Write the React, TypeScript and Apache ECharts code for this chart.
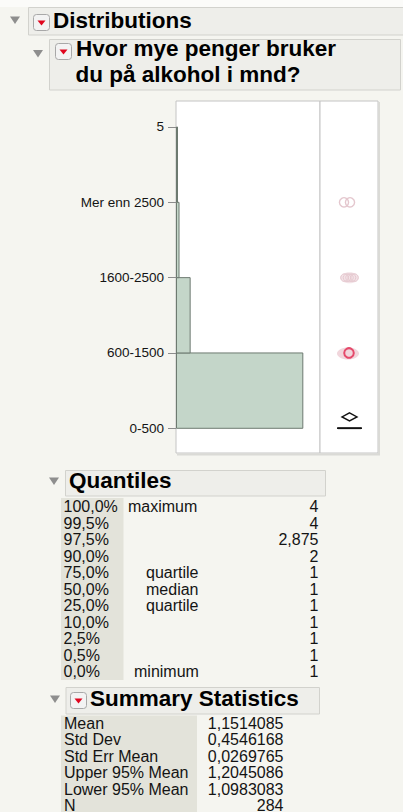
import React, { useEffect, useRef } from 'react';
import * as echarts from 'echarts';

// ---- data ----
const binStarts = [1, 2, 3, 4];
const binEnds = [2, 3, 4, 5];
const binCounts = [250, 27, 5, 2];
const tickValues = [1, 2, 3, 4, 5];
const tickLabels = ['0-500', '600-1500', '1600-2500', 'Mer enn 2500', '5'];
const outlierValues = [2, 3, 4];
const outlierCounts = [27, 5, 2];
const quartileValues = [1, 1, 1]; // q1, median, q3
const meanValue = 1.1514085;
const lower95 = 1.0983083;
const upper95 = 1.2045086;

const quantileLevels = ['100,0%', '99,5%', '97,5%', '90,0%', '75,0%', '50,0%', '25,0%', '10,0%', '2,5%', '0,5%', '0,0%'];
const quantileNames = ['maximum', '', '', '', 'quartile', 'median', 'quartile', '', '', '', 'minimum'];
const quantileValues = ['4', '4', '2,875', '2', '1', '1', '1', '1', '1', '1', '1'];
const summaryLabels = ['Mean', 'Std Dev', 'Std Err Mean', 'Upper 95% Mean', 'Lower 95% Mean', 'N'];
const summaryValues = ['1,1514085', '0,4546168', '0,0269765', '1,2045086', '1,0983083', '284'];

const FONT = "'Liberation Sans', Arial, Helvetica, sans-serif";
const nameX: Record<string, number> = { maximum: 128, quartile: 146, median: 146, minimum: 134 };

function txt(text: string, x: number, y: number, opts: any = {}) {
  const align = opts.align ?? 'left';
  return {
    type: 'text',
    x,
    y,
    silent: true,
    style: {
      text,
      fill: opts.color ?? '#141414',
      fontFamily: FONT,
      fontSize: opts.size ?? 16,
      fontWeight: opts.weight ?? 'normal',
      align,
      textAlign: align,
      verticalAlign: 'middle',
      textVerticalAlign: 'middle',
    },
  };
}

function headerBox(x: number, y: number, w: number, h: number) {
  return {
    type: 'rect',
    silent: true,
    shape: { x, y, width: w, height: h },
    style: { fill: '#eeeeea', stroke: '#d2d2cd', lineWidth: 1 },
  };
}

function disclosure(x: number, y: number) {
  return {
    type: 'polygon',
    silent: true,
    shape: { points: [[x, y], [x + 10, y], [x + 5, y + 7.5]] },
    style: { fill: '#8e8e8e' },
  };
}

function redButton(x: number, y: number) {
  return {
    type: 'group',
    silent: true,
    children: [
      { type: 'rect', shape: { x, y, width: 16, height: 16, r: 3 }, style: { fill: '#f3f3f3', stroke: '#a8a8a8', lineWidth: 1 } },
      { type: 'polygon', shape: { points: [[x + 4, y + 6], [x + 12, y + 6], [x + 8, y + 11]] }, style: { fill: '#e0061f' } },
    ],
  };
}

export default function App() {
  const ref = useRef<HTMLDivElement>(null);

  useEffect(() => {
    if (!ref.current) return;
    const chart = echarts.init(ref.current, null, { renderer: 'svg' });

    const yMin = 0.672;
    const yMax = 5.345;

    const graphics: any[] = [];
    graphics.push({ type: 'rect', silent: true, shape: { x: 0, y: 0, width: 403, height: 7 }, style: { fill: '#fbfbf9' } });
    // Distributions header
    graphics.push(headerBox(28.5, 7.5, 380, 27.5));
    graphics.push(disclosure(10, 16.5));
    graphics.push(redButton(33.5, 14.5));
    graphics.push(txt('Distributions', 53, 20, { size: 22.5, weight: 'bold', color: '#000' }));
    // variable header
    graphics.push(headerBox(49.5, 39.5, 351, 50.5));
    graphics.push(disclosure(33, 50));
    graphics.push(redButton(55.5, 43.5));
    graphics.push(txt('Hvor mye penger bruker', 76, 48.2, { size: 22.5, weight: 'bold', color: '#000' }));
    graphics.push(txt('du på alkohol i mnd?', 75.5, 74.9, { size: 22.5, weight: 'bold', color: '#000' }));
    // plot frame shadow
    graphics.push({ type: 'line', silent: true, shape: { x1: 379, y1: 102, x2: 379, y2: 454 }, style: { stroke: '#dadad6', lineWidth: 2 } });
    graphics.push({ type: 'line', silent: true, shape: { x1: 177, y1: 454.5, x2: 380, y2: 454.5 }, style: { stroke: '#dadad6', lineWidth: 2 } });

    // Quantiles
    graphics.push(disclosure(49, 477.5));
    graphics.push(headerBox(65.5, 470.5, 260, 25.5));
    graphics.push(txt('Quantiles', 69, 480.5, { size: 22.5, weight: 'bold', color: '#000' }));
    graphics.push({ type: 'rect', silent: true, shape: { x: 61, y: 498, width: 62.5, height: 182 }, style: { fill: '#e3e3da' } });
    quantileLevels.forEach((lvl, i) => {
      const y = 506.7 + i * 16.5;
      graphics.push(txt(lvl, 63.5, y));
      const nm = quantileNames[i];
      if (nm) graphics.push(txt(nm, nameX[nm] ?? 130, y));
      graphics.push(txt(quantileValues[i], 318.5, y, { align: 'right' }));
    });

    // Summary statistics
    graphics.push(disclosure(50, 695.5));
    graphics.push(headerBox(66, 687.5, 253.5, 26.5));
    graphics.push(redButton(70.5, 692.5));
    graphics.push(txt('Summary Statistics', 90, 698, { size: 22.5, weight: 'bold', color: '#000' }));
    graphics.push({ type: 'rect', silent: true, shape: { x: 61, y: 715.5, width: 136, height: 97 }, style: { fill: '#e3e3da' } });
    summaryLabels.forEach((lab, i) => {
      const y = 723.3 + i * 16.5;
      graphics.push(txt(lab, 64, y));
      graphics.push(txt(summaryValues[i], 283.5, y, { align: 'right' }));
    });

    const option: any = {
      animation: false,
      backgroundColor: '#f5f5f0',
      grid: [
        { left: 176, top: 101, width: 144, height: 352, show: true, backgroundColor: '#ffffff', borderColor: '#c4c4c4', borderWidth: 1 },
        { left: 320, top: 101, width: 58, height: 352, show: true, backgroundColor: '#ffffff', borderColor: '#c4c4c4', borderWidth: 1 },
      ],
      xAxis: [
        { type: 'value', gridIndex: 0, min: 0, max: 285, show: false },
        { type: 'value', gridIndex: 1, min: 0, max: 1, show: false },
      ],
      yAxis: [
        {
          type: 'value',
          gridIndex: 0,
          min: yMin,
          max: yMax,
          axisLine: { show: false },
          splitLine: { show: false },
          axisTick: { show: true, length: 8, customValues: tickValues, lineStyle: { color: '#8c8c8c', width: 1 } },
          axisLabel: {
            show: true,
            customValues: tickValues,
            margin: 12,
            color: '#141414',
            fontFamily: FONT,
            fontSize: 13.5,
            formatter: (v: number) => {
              const idx = tickValues.indexOf(Math.round(v));
              return idx >= 0 ? tickLabels[idx] : '';
            },
          },
        },
        { type: 'value', gridIndex: 1, min: yMin, max: yMax, show: false },
      ],
      graphic: { elements: graphics },
      series: [
        {
          type: 'custom',
          name: 'histogram',
          xAxisIndex: 0,
          yAxisIndex: 0,
          data: binStarts.map((s, i) => [s, binEnds[i], binCounts[i]]),
          encode: { x: 2, y: [0, 1] },
          renderItem: (params: any, api: any) => {
            const s = api.value(0);
            const e = api.value(1);
            const c = api.value(2);
            const p0 = api.coord([0, e]);
            const p1 = api.coord([c, s]);
            return {
              type: 'rect',
              shape: { x: p0[0] + 0.5, y: p0[1], width: Math.max(p1[0] - p0[0], 0.6), height: p1[1] - p0[1] },
              style: { fill: '#c4d6c9', stroke: '#6d7a70', lineWidth: 1 },
            };
          },
        },
        {
          type: 'custom',
          name: 'outliers',
          xAxisIndex: 1,
          yAxisIndex: 1,
          data: outlierValues.map((v, i) => [v, outlierCounts[i]]),
          encode: { y: 0 },
          renderItem: (params: any, api: any) => {
            const v = api.value(0);
            const n = api.value(1);
            const p = api.coord([0.5, v]);
            const cx = p[0];
            const cy = p[1];
            const children: any[] = [];
            if (n >= 10) {
              children.push({ type: 'ellipse', shape: { cx: cx - 1, cy: cy + 0.5, rx: 11, ry: 6 }, style: { fill: '#f1d6dc' } });
              children.push({ type: 'circle', shape: { cx, cy, r: 4.8 }, style: { fill: 'none', stroke: '#e54a6b', lineWidth: 2 } });
            } else if (n > 2) {
              children.push({ type: 'ellipse', shape: { cx: cx + 0.5, cy, rx: 9.3, ry: 5.5 }, style: { fill: '#f3e3e7' } });
              for (let i = 0; i < n; i++) {
                const off = -5 + (10 * i) / (n - 1);
                children.push({ type: 'circle', shape: { cx: cx + 0.5 + off, cy, r: 3.8 }, style: { fill: 'none', stroke: '#e6c9d0', lineWidth: 1 } });
              }
            } else {
              for (let i = 0; i < n; i++) {
                const off = n > 1 ? -3 + (6 * i) / (n - 1) : 0;
                children.push({ type: 'circle', shape: { cx: cx - 2 + off, cy, r: 4.6 }, style: { fill: 'none', stroke: '#e4c7ce', lineWidth: 1.4 } });
              }
            }
            return { type: 'group', children };
          },
        },
        {
          type: 'custom',
          name: 'box',
          xAxisIndex: 1,
          yAxisIndex: 1,
          data: [[quartileValues[0], quartileValues[1], quartileValues[2], meanValue, lower95, upper95]],
          encode: { y: [0, 2] },
          renderItem: (params: any, api: any) => {
            const pQ1 = api.coord([0.5, api.value(0)]);
            const cx = pQ1[0] + 0.5;
            const yQ1 = pQ1[1];
            const yMed = api.coord([0.5, api.value(1)])[1];
            const yQ3 = api.coord([0.5, api.value(2)])[1];
            const yMean = api.coord([0.5, api.value(3)])[1];
            const yLo = api.coord([0.5, api.value(4)])[1];
            const yHi = api.coord([0.5, api.value(5)])[1];
            const hw = 12.2;
            const ls = { stroke: '#111', lineWidth: 1.5 };
            return {
              type: 'group',
              children: [
                { type: 'line', shape: { x1: cx - hw, y1: yQ1, x2: cx + hw, y2: yQ1 }, style: ls },
                { type: 'line', shape: { x1: cx - hw, y1: yQ3, x2: cx + hw, y2: yQ3 }, style: ls },
                { type: 'line', shape: { x1: cx - hw, y1: yMed, x2: cx + hw, y2: yMed }, style: ls },
                { type: 'line', shape: { x1: cx - hw, y1: yQ3, x2: cx - hw, y2: yQ1 }, style: ls },
                { type: 'line', shape: { x1: cx + hw, y1: yQ3, x2: cx + hw, y2: yQ1 }, style: ls },
                {
                  type: 'polygon',
                  shape: { points: [[cx, yHi], [cx + 7.5, yMean], [cx, yLo], [cx - 7.5, yMean]] },
                  style: { fill: '#ffffff', stroke: '#111', lineWidth: 1.4 },
                },
              ],
            };
          },
        },
      ],
    };

    chart.setOption(option);
    return () => chart.dispose();
  }, []);

  return <div ref={ref} style={{ position: 'fixed', left: 0, top: 0, width: 403, height: 812 }} />;
}
